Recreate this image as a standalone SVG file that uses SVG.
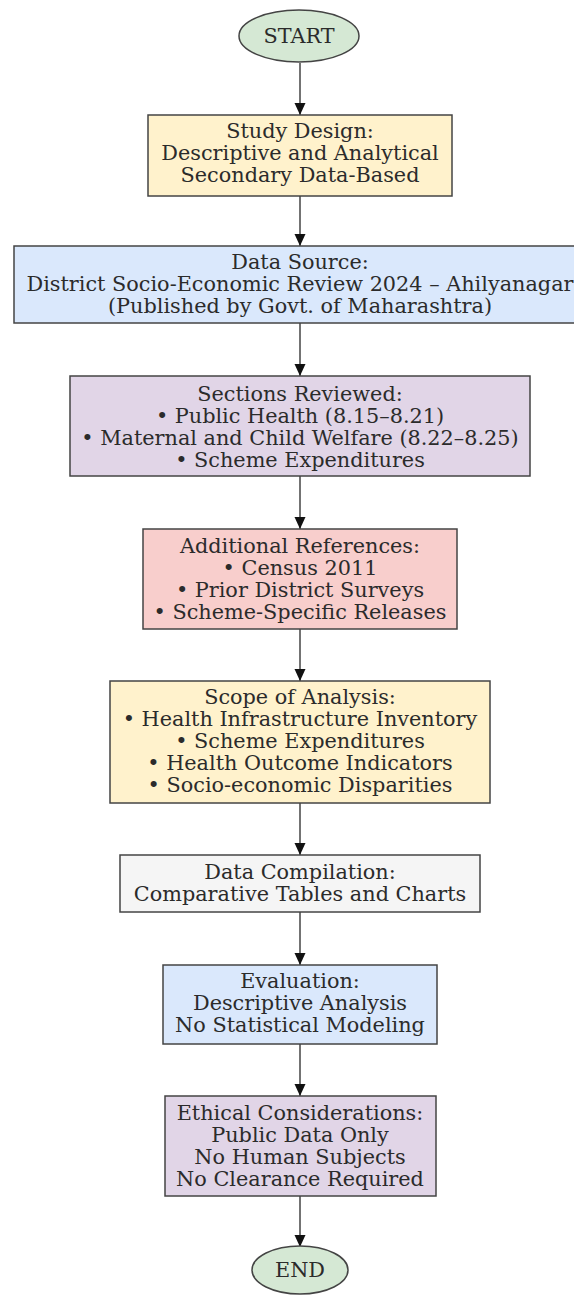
<svg xmlns="http://www.w3.org/2000/svg" width="574" height="1298" viewBox="0 0 574 1298">
<defs>
<marker id="arr" markerWidth="12" markerHeight="12" refX="12" refY="5.5" orient="auto" markerUnits="userSpaceOnUse">
<path d="M0,0 L12,5.5 L0,11 Z" fill="#111"/>
</marker>
<style>
.n{stroke:#444;stroke-width:1.5}
text{font-family:"DejaVu Serif",serif;font-size:20.8px;fill:#2b2b2b;text-anchor:middle}
.c line{stroke:#444;stroke-width:1.5;marker-end:url(#arr)}
</style>
</defs>
<rect width="574" height="1298" fill="#fff"/>
<g class="c" id="connectors">
<line x1="300" y1="63" x2="300" y2="115"/>
<line x1="300" y1="196" x2="300" y2="246"/>
<line x1="300" y1="323" x2="300" y2="376"/>
<line x1="300" y1="476" x2="300" y2="529"/>
<line x1="300" y1="629" x2="300" y2="681"/>
<line x1="300" y1="803" x2="300" y2="855"/>
<line x1="300" y1="912" x2="300" y2="965"/>
<line x1="300" y1="1044" x2="300" y2="1096"/>
<line x1="300" y1="1196" x2="300" y2="1247"/>
</g>
<g id="start">
<ellipse class="n" cx="299" cy="36" rx="60" ry="26" fill="#d5e8d4"/>
<text x="299" y="43">START</text>
</g>
<g id="study">
<rect class="n" x="148" y="115" width="304" height="81" fill="#fff2cc"/>
<text x="300" y="138">Study Design:</text>
<text x="300" y="160">Descriptive and Analytical</text>
<text x="300" y="182">Secondary Data-Based</text>
</g>
<g id="source">
<rect class="n" x="14" y="246" width="572" height="77" fill="#dae8fc"/>
<text x="300" y="269">Data Source:</text>
<text x="300" y="291">District Socio-Economic Review 2024 – Ahilyanagar</text>
<text x="300" y="313">(Published by Govt. of Maharashtra)</text>
</g>
<g id="sections">
<rect class="n" x="70" y="376" width="460" height="100" fill="#e1d5e7"/>
<text x="300" y="401">Sections Reviewed:</text>
<text x="300" y="423">• Public Health (8.15–8.21)</text>
<text x="300" y="445">• Maternal and Child Welfare (8.22–8.25)</text>
<text x="300" y="467">• Scheme Expenditures</text>
</g>
<g id="refs">
<rect class="n" x="143" y="529" width="314" height="100" fill="#f8cecc"/>
<text x="300" y="553">Additional References:</text>
<text x="300" y="575">• Census 2011</text>
<text x="300" y="597">• Prior District Surveys</text>
<text x="300" y="619">• Scheme-Specific Releases</text>
</g>
<g id="scope">
<rect class="n" x="110" y="681" width="380" height="122" fill="#fff2cc"/>
<text x="300" y="704">Scope of Analysis:</text>
<text x="300" y="726">• Health Infrastructure Inventory</text>
<text x="300" y="748">• Scheme Expenditures</text>
<text x="300" y="770">• Health Outcome Indicators</text>
<text x="300" y="792">• Socio-economic Disparities</text>
</g>
<g id="compilation">
<rect class="n" x="120" y="855" width="360" height="57" fill="#f5f5f5"/>
<text x="300" y="879">Data Compilation:</text>
<text x="300" y="901">Comparative Tables and Charts</text>
</g>
<g id="evaluation">
<rect class="n" x="163" y="965" width="274" height="79" fill="#dae8fc"/>
<text x="300" y="988">Evaluation:</text>
<text x="300" y="1010">Descriptive Analysis</text>
<text x="300" y="1032">No Statistical Modeling</text>
</g>
<g id="ethics">
<rect class="n" x="165" y="1096" width="271" height="100" fill="#e1d5e7"/>
<text x="300" y="1120">Ethical Considerations:</text>
<text x="300" y="1142">Public Data Only</text>
<text x="300" y="1164">No Human Subjects</text>
<text x="300" y="1186">No Clearance Required</text>
</g>
<g id="end">
<ellipse class="n" cx="300" cy="1270" rx="48" ry="24" fill="#d5e8d4"/>
<text x="300" y="1277">END</text>
</g>
</svg>
